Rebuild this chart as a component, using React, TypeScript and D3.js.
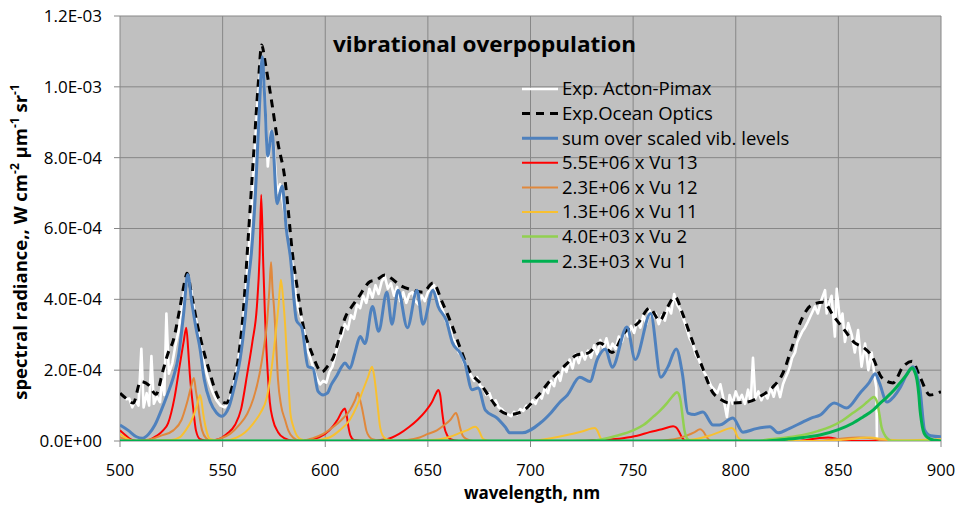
import React from "react";
import * as d3 from "d3";

// values of the y series are in units of 1E-04 (W cm-2 um-1 sr-1)
const xTicks = [500, 550, 600, 650, 700, 750, 800, 850, 900];
const yTicks = [0, 2, 4, 6, 8, 10, 12];
const yTickLabels = ["0.0E+00", "2.0E-04", "4.0E-04", "6.0E-04", "8.0E-04", "1.0E-03", "1.2E-03"];

const actonPimax: [number, number][] = [
  [500, 1.35], [501.5, 1.28], [503, 1.18], [504.5, 1.2], [506, 0.95], [507.5, 1.15], [509, 1.0], [510.4, 2.6],
  [511.5, 0.95], [513, 1.35], [514.2, 1.0], [515.3, 2.4], [516.5, 1.05], [518, 1.25], [519.5, 1.1], [520.5, 1.75],
  [521.6, 1.3], [522.6, 3.6], [523.8, 1.9], [525.5, 2.2], [527, 2.7], [528.5, 3.1], [530, 3.75], [531.5, 4.3],
  [533, 4.6], [534.5, 4.35], [536, 3.75], [537.5, 3.3], [539, 2.75], [540.5, 2.3], [542, 1.95], [543.5, 1.65],
  [545, 1.4], [547, 1.15], [549, 1.0], [551, 0.95], [553, 1.1], [555, 1.45], [557, 2.05], [559, 2.85],
  [561, 4.0], [563, 5.6], [565, 7.5], [567, 9.6], [569, 10.85], [570.5, 9.9], [572, 7.75], [573.5, 8.75],
  [575, 8.3], [576.5, 7.0], [578, 7.25], [579.5, 6.7], [581, 6.1], [582.5, 5.5], [584, 5.0], [585.5, 4.2],
  [587, 3.7], [588.5, 3.45], [590, 3.0], [591.5, 2.55], [593, 2.3], [594.5, 2.0], [596, 1.75], [597.5, 1.6],
  [599, 1.7], [600.5, 1.65], [602, 1.95], [603.5, 2.1], [605, 2.45], [606.5, 2.75], [608, 2.95], [609.5, 3.3],
  [611, 3.15], [612.5, 3.55], [614, 3.45], [615.5, 3.85], [617, 3.75], [618.5, 4.1], [620, 3.9], [621.5, 4.3],
  [623, 4.05], [624.5, 4.4], [626, 4.15], [627.5, 4.5], [629, 4.65], [630.5, 4.3], [632, 4.45], [633.5, 4.1],
  [635, 4.35], [636.5, 3.95], [638, 4.2], [639.5, 3.9], [641, 4.15], [642.5, 4.2], [644, 3.95], [645.5, 3.85],
  [647, 4.1], [648.5, 3.95], [650, 4.2], [651.5, 4.3], [653, 4.4], [654.5, 4.1], [656, 3.85], [657.5, 3.65],
  [659, 3.35], [660.5, 3.25], [662, 2.9], [663.5, 2.8], [665, 2.5], [666.5, 2.4], [668, 2.15], [669.5, 2.0],
  [671, 1.85], [672.5, 1.7], [674, 1.8], [675.5, 1.55], [677, 1.5], [678.5, 1.3], [680, 1.35], [681.5, 1.1],
  [683, 1.15], [684.5, 0.95], [686, 0.9], [687.5, 0.8], [689, 0.75], [690.5, 0.7], [692, 0.82], [693.5, 0.75],
  [695, 0.9], [696.5, 0.85], [698, 1.0], [699.5, 0.95], [701, 1.15], [702.5, 1.05], [704, 1.3], [705.5, 1.2],
  [707, 1.5], [708.5, 1.35], [710, 1.7], [711.5, 1.55], [713, 1.95], [714.5, 1.7], [716, 2.1], [717.5, 1.95],
  [719, 2.3], [720.5, 2.05], [722, 2.45], [723.5, 2.2], [725, 2.5], [726.5, 2.3], [728, 2.55], [729.5, 2.35],
  [731, 2.7], [732.5, 2.45], [734, 2.85], [735.5, 2.6], [737, 2.9], [738.5, 2.55], [740, 2.75], [741.5, 2.6],
  [743, 2.95], [744.5, 2.8], [746, 3.15], [747.5, 2.95], [749, 3.25], [750.5, 3.05], [752, 3.4], [753.5, 3.2],
  [755, 3.55], [756.5, 3.3], [758, 3.7], [759.5, 3.45], [761, 3.6], [762.5, 3.3], [764, 3.55], [765.5, 3.4],
  [767, 3.8], [768.5, 3.6], [770, 4.15], [771.5, 3.85], [773, 3.7], [774.5, 3.45], [776, 3.2], [777.5, 2.9],
  [779, 2.75], [780.5, 2.45], [782, 2.3], [783.5, 2.05], [785, 1.9], [786.5, 1.75], [788, 1.55], [789.5, 1.45],
  [791, 1.35], [792.5, 1.6], [794, 1.2], [795.7, 0.68], [797, 1.3], [798.5, 1.05], [800, 1.4], [801.5, 1.15],
  [803, 1.3], [804.5, 1.05], [806, 1.45], [807.3, 1.1], [808.4, 2.35], [809.5, 1.2], [811, 1.4], [812.5, 1.15],
  [814, 1.35], [815.5, 1.2], [817, 1.5], [818.5, 1.25], [820, 1.6], [821.6, 1.24], [823, 1.6], [824, 1.75],
  [825.5, 1.95], [826.4, 2.1], [827.5, 2.35], [828.9, 2.5], [830, 2.8], [831.3, 2.95], [832.5, 3.1], [833.7, 3.2],
  [835, 3.35], [836.2, 3.5], [837.4, 3.65], [838.6, 3.8], [840, 3.6], [841.5, 3.95], [843.5, 4.26], [844.3, 3.6],
  [845.5, 3.9], [846.7, 4.1], [848.3, 2.95], [849.2, 4.3], [850.9, 3.33], [852, 3.6], [853.2, 2.8], [854.8, 3.33],
  [856.5, 3.0], [858, 2.5], [859.6, 3.13], [861.3, 2.1], [863, 2.75], [864.6, 2.0], [866.2, 2.5], [867.8, 1.75],
  [868.5, 1.5], [868.8, 0.0],
];

const oceanOptics: [number, number][] = [
  [500, 1.35], [503, 1.2], [506.5, 1.07], [510, 1.68], [514, 1.58], [517.5, 1.32], [521, 2.0], [523.4, 2.48],
  [526, 2.85], [529, 3.7], [531.7, 4.55], [532.6, 4.74], [535, 4.1], [537.5, 3.33], [540.5, 2.6], [543.8, 1.92],
  [546, 1.5], [548.7, 1.16], [552, 1.07], [554.5, 1.5], [557, 2.1], [560, 3.6], [562.4, 5.67], [565, 8.0],
  [567.5, 10.2], [569, 11.18], [571, 10.6], [574, 9.54], [577, 8.4], [580.4, 7.37], [582, 6.5], [583.8, 5.4],
  [586, 4.46], [589, 3.33], [593.5, 2.48], [598.4, 1.95], [601, 2.1], [604, 2.37], [607, 2.95], [609.6, 3.47],
  [613, 3.8], [616, 4.04], [621.8, 4.5], [625, 4.55], [629, 4.69], [632, 4.6], [636.4, 4.4], [642.8, 4.26],
  [647.6, 4.2], [652.5, 4.46], [657, 3.92], [661.7, 3.27], [665.6, 2.65], [670.5, 1.95], [675.4, 1.64], [680, 1.24],
  [685, 0.87], [690, 0.75], [696.3, 0.85], [703, 1.24], [711, 1.8], [718, 2.2], [722.6, 2.43], [728, 2.48],
  [733.9, 2.77], [739.7, 2.5], [746, 3.08], [752.4, 3.33], [758, 3.75], [763, 3.4], [766, 3.7], [770.4, 4.07],
  [774.3, 3.56], [778.7, 2.85], [783.6, 2.1], [789, 1.35], [792, 1.2], [797, 1.07], [805.5, 1.1], [813, 1.3],
  [818, 1.52], [823, 1.92], [827.4, 2.65], [831.3, 3.33], [837, 3.84], [842.5, 3.92], [848, 3.5], [853, 3.13],
  [858, 2.77], [862, 2.65], [866.9, 2.34], [871, 1.8], [876.6, 1.64], [881.5, 2.1], [885.9, 2.25], [889.8, 1.8],
  [894.6, 1.3], [898.5, 1.35], [900, 1.4],
];

const sumVibLevels: [number, number][] = [
  [500, 0.45], [504, 0.3], [508, 0.12], [511, 0.08], [514, 0.2], [517, 0.45], [520, 0.85], [523, 1.3],
  [526, 1.8], [528.5, 2.4], [531, 3.6], [533, 4.7], [535, 3.9], [537, 3.2], [539, 2.6], [541, 1.75],
  [544, 1.1], [547, 0.8], [549.5, 0.7], [553, 0.95], [556, 1.6], [558.5, 2.3], [561, 3.5], [562.5, 4.5],
  [564, 5.3], [566, 7.0], [568, 9.5], [569.3, 10.85], [570.5, 9.7], [572, 8.05], [574, 8.75], [576.5, 6.7],
  [579, 7.2], [581, 6.0], [583, 5.2], [586, 3.4], [588.6, 3.2], [591.6, 2.1], [594, 2.05], [596.5, 1.4],
  [599, 1.3], [601, 1.35], [603, 1.6], [605.7, 1.85], [608, 2.1], [609.6, 2.2], [612, 2.05], [614.5, 2.5],
  [617, 2.95], [619.4, 2.75], [623, 3.8], [626, 3.1], [630, 4.2], [632.5, 3.3], [635.5, 4.26], [640, 3.2],
  [644.7, 4.26], [647.6, 3.3], [652.5, 4.26], [655, 3.8], [659, 3.4], [662, 2.77], [665.6, 2.5], [668, 2.2],
  [671.5, 1.45], [674.5, 1.5], [678, 0.87], [683.6, 0.65], [687.6, 0.4], [690, 0.23], [696, 0.23], [704.6, 0.5],
  [710, 0.8], [714.4, 1.1], [718, 1.3], [724, 1.8], [729, 1.68], [732.5, 2.3], [736.5, 2.6], [739.8, 2.08],
  [747, 3.22], [751, 2.3], [758.5, 3.6], [763.5, 1.8], [767, 2.1], [771, 2.6], [774, 1.9], [776.7, 0.79],
  [780, 0.75], [784, 0.82], [789, 0.45], [792, 0.45], [798.6, 0.65], [803.5, 0.25], [810, 0.35], [816.7, 0.4],
  [820.6, 0.23], [826, 0.35], [832.8, 0.54], [837, 0.65], [841, 0.73], [848, 1.07], [854, 0.93], [860.5, 1.35],
  [865, 1.65], [868, 1.9], [870, 1.64], [873.7, 1.1], [877, 1.25], [880, 1.5], [884, 1.95], [886.4, 2.1],
  [888, 1.9], [889.8, 1.44], [892, 0.31], [895, 0.15], [900, 0.12],
];

const vu13: [number, number][] = [
  [500, 0.3], [502, 0.2], [505, 0.05], [508, 0], [514, 0.03], [518, 0.15], [521, 0.3], [523.4, 0.5],
  [526.6, 1.24], [529, 2.1], [531, 2.8], [532.3, 3.2], [533.2, 2.6], [534, 1.9], [535.6, 0.96], [537, 0.3],
  [539, 0.05], [543, 0], [548, 0.05], [552, 0.2], [556, 0.45], [559, 0.9], [562, 1.9], [564.5, 2.8],
  [566.7, 3.8], [568, 5.2], [568.8, 6.95], [569.8, 5.0], [570.6, 3.6], [572, 1.9], [573, 1.1], [574.5, 0.6],
  [577, 0.25], [580, 0.08], [585, 0], [592, 0.03], [597, 0.1], [602, 0.3], [606, 0.6], [608.6, 0.87],
  [609.6, 0.92], [610.5, 0.7], [611.3, 0.4], [612.3, 0.15], [614, 0.03], [620, 0], [630, 0.05], [636, 0.2],
  [641, 0.4], [645, 0.6], [649, 0.85], [652, 1.1], [654, 1.35], [655, 1.44], [656, 1.3], [657, 0.8],
  [658, 0.4], [659.5, 0.15], [661, 0.05], [665, 0], [720, 0], [735, 0.03], [745, 0.08], [752, 0.15],
  [758, 0.25], [764, 0.33], [769.5, 0.42], [771, 0.38], [772.5, 0.25], [774, 0.08], [776, 0], [830, 0],
  [840, 0.08], [845, 0.1], [850, 0.05], [855, 0], [900, 0],
];

const vu12: [number, number][] = [
  [500, 0.1], [504, 0.03], [508, 0], [515, 0.05], [520, 0.15], [526, 0.3], [530, 0.6], [532.6, 1.07],
  [534.5, 1.5], [536, 1.78], [537, 1.4], [537.7, 1.16], [539, 0.6], [540, 0.3], [542, 0.08], [545, 0],
  [548, 0.05], [553.6, 0.2], [558, 0.45], [562, 0.77], [565, 1.2], [568, 1.9], [570, 2.6], [571.6, 3.33],
  [572.8, 4.3], [573.6, 5.05], [574.3, 4.3], [575, 3.8], [576, 2.8], [577, 1.72], [578.5, 1.0], [580.4, 0.6],
  [582, 0.3], [584.3, 0.1], [588, 0], [594, 0.08], [599, 0.2], [604, 0.4], [608, 0.6], [612, 0.87],
  [614.5, 1.15], [616, 1.36], [617, 1.15], [617.8, 0.96], [619, 0.6], [620, 0.3], [621.5, 0.12], [623, 0.05],
  [628, 0], [640, 0.03], [646, 0.1], [650, 0.2], [654.4, 0.3], [658, 0.45], [661, 0.6], [663.7, 0.79],
  [664.7, 0.65], [665.6, 0.4], [667, 0.15], [669, 0.05], [672, 0], [760, 0], [770, 0.05], [776, 0.15],
  [780, 0.25], [782.6, 0.33], [784, 0.28], [786, 0.1], [788, 0], [840, 0], [850, 0.06], [860, 0.1],
  [866, 0.08], [870, 0.03], [875, 0], [900, 0],
];

const vu11: [number, number][] = [
  [500, 0.2], [503, 0.08], [507, 0], [525, 0.03], [529, 0.1], [532, 0.3], [535, 0.6], [537.5, 1.0],
  [539, 1.3], [539.8, 1.1], [540.5, 0.79], [541.5, 0.45], [542.4, 0.23], [544, 0.05], [550, 0], [557, 0.1],
  [561, 0.25], [565, 0.5], [568.5, 0.8], [571.6, 1.24], [573.5, 1.9], [575.5, 2.85], [577.2, 3.8], [578.4, 4.55],
  [579.5, 4.0], [580.4, 3.33], [581.2, 2.5], [582, 1.72], [583, 0.79], [584.2, 0.45], [585.5, 0.23], [588, 0.05],
  [592, 0], [602, 0.1], [607, 0.3], [612, 0.6], [615.5, 1.0], [618.4, 1.44], [620.8, 1.8], [622.8, 2.1],
  [623.8, 1.85], [624.7, 1.44], [625.7, 0.9], [626.7, 0.4], [628, 0.15], [630, 0.05], [635, 0], [650, 0.02],
  [656, 0.05], [661, 0.12], [665.6, 0.23], [669, 0.3], [673, 0.4], [674.3, 0.35], [675.4, 0.23], [676.2, 0.12],
  [677, 0.05], [680, 0], [700, 0], [704.6, 0.03], [710, 0.08], [717.8, 0.17], [725, 0.27], [731.4, 0.37],
  [732.5, 0.3], [734, 0.1], [735, 0.03], [737, 0], [770, 0], [780, 0.05], [787, 0.15], [792, 0.25],
  [798, 0.37], [799.5, 0.3], [801, 0.1], [803, 0.02], [806, 0], [840, 0], [855, 0.05], [865, 0.1],
  [872, 0.05], [880, 0.02], [900, 0.05],
];

const vu2: [number, number][] = [
  [500, 0], [730, 0], [735, 0.05], [742, 0.15], [750, 0.3], [755, 0.45], [759.7, 0.68], [763, 0.85],
  [766.5, 1.07], [769, 1.25], [771.4, 1.38], [772.3, 1.32], [773.2, 1.1], [774.3, 0.6], [775, 0.3], [776, 0.1],
  [777, 0.03], [778.5, 0], [810, 0], [816.7, 0.05], [825, 0.1], [832.8, 0.17], [840, 0.28], [846, 0.4],
  [852, 0.58], [857, 0.79], [861, 0.95], [864, 1.1], [866, 1.2], [867.4, 1.24], [868.3, 1.18], [869, 1.07],
  [870, 0.75], [871, 0.4], [872.5, 0.18], [873.7, 0.08], [876, 0], [900, 0],
];

const vu1: [number, number][] = [
  [500, 0], [815, 0], [825, 0.05], [833, 0.1], [841, 0.17], [850, 0.32], [857, 0.5], [862, 0.68],
  [866.9, 0.87], [870, 1.05], [873.7, 1.24], [877, 1.43], [880, 1.64], [883, 1.85], [885.9, 2.06], [887.2, 1.95],
  [888.3, 1.72], [889.2, 1.3], [889.8, 0.87], [890.5, 0.55], [891.3, 0.3], [892.5, 0.15], [894.6, 0.06], [897, 0.02],
  [900, 0],
];

const legendLabels = [
  "Exp. Acton-Pimax",
  "Exp.Ocean Optics",
  "sum over scaled vib. levels",
  "5.5E+06 x Vu 13",
  "2.3E+06 x Vu 12",
  "1.3E+06 x Vu 11",
  "4.0E+03 x Vu 2",
  "2.3E+03 x Vu 1",
];

const W = 957;
const H = 505;
const M = { left: 120, right: 941, top: 16, bottom: 441 };
const FONT = "'Open Sans', 'DejaVu Sans', sans-serif";

type Series = {
  data: [number, number][];
  color: string;
  width: number;
  dash?: string;
  smooth: boolean;
};

const series: Series[] = [
  { data: actonPimax, color: "#FFFFFF", width: 2.6, smooth: false },
  { data: oceanOptics, color: "#000000", width: 3, dash: "8,6", smooth: true },
  { data: sumVibLevels, color: "#4F81BD", width: 3, smooth: true },
  { data: vu13, color: "#FF0000", width: 2, smooth: true },
  { data: vu12, color: "#E0883C", width: 2, smooth: true },
  { data: vu11, color: "#F8C030", width: 2, smooth: true },
  { data: vu2, color: "#92D050", width: 2.5, smooth: true },
  { data: vu1, color: "#00B050", width: 3, smooth: true },
];

export default function App() {
  const x = d3.scaleLinear().domain([500, 900]).range([M.left, M.right]);
  const y = d3.scaleLinear().domain([0, 12]).range([M.bottom, M.top]);

  const lineFor = (s: Series) =>
    d3
      .line<[number, number]>()
      .x((d) => x(d[0]))
      .y((d) => y(d[1]))
      .curve(s.smooth ? d3.curveMonotoneX : d3.curveLinear)(s.data) || "";

  const legX1 = 522;
  const legX2 = 558;
  const legY0 = 89;
  const legDy = 24.6;

  return (
    <svg
      width={W}
      height={H}
      style={{ position: "absolute", left: 0, top: 0, background: "#FFFFFF" }}
      fontFamily={FONT}
    >
      <defs>
        <clipPath id="plotClip">
          <rect x={M.left} y={M.top - 2} width={M.right - M.left} height={M.bottom - M.top + 2} />
        </clipPath>
      </defs>
      <rect x={M.left} y={M.top} width={M.right - M.left} height={M.bottom - M.top} fill="#C0C0C0" />
      {/* grid */}
      {xTicks.slice(1).map((t) => (
        <line key={"gx" + t} x1={x(t)} x2={x(t)} y1={M.top} y2={M.bottom} stroke="#878787" strokeWidth={1} />
      ))}
      {yTicks.slice(1).map((t) => (
        <line key={"gy" + t} x1={M.left} x2={M.right} y1={y(t)} y2={y(t)} stroke="#878787" strokeWidth={1} />
      ))}
      {/* axes */}
      <line x1={M.left} x2={M.left} y1={M.top} y2={M.bottom} stroke="#878787" strokeWidth={1} />
      <line x1={M.left} x2={M.right} y1={M.bottom} y2={M.bottom} stroke="#878787" strokeWidth={1} />
      {yTicks.map((t) => (
        <line key={"ty" + t} x1={M.left - 6} x2={M.left} y1={y(t)} y2={y(t)} stroke="#878787" />
      ))}
      {xTicks.map((t) => (
        <line key={"tx" + t} x1={x(t)} x2={x(t)} y1={M.bottom} y2={M.bottom + 6} stroke="#878787" />
      ))}
      {yTicks.map((t, i) => (
        <text key={"ly" + t} x={102} y={y(t)} dy="0.35em" textAnchor="end" fontSize={17} fill="#000">
          {yTickLabels[i]}
        </text>
      ))}
      {xTicks.map((t) => (
        <text key={"lx" + t} x={x(t)} y={476} textAnchor="middle" fontSize={16.5} fill="#000">
          {t}
        </text>
      ))}
      {/* series */}
      <g clipPath="url(#plotClip)">
        {series.map((s, i) => (
          <path
            key={"s" + i}
            d={lineFor(s)}
            fill="none"
            stroke={s.color}
            strokeWidth={s.width}
            strokeDasharray={s.dash}
            strokeLinejoin="round"
          />
        ))}
      </g>
      {/* title */}
      <text
        x={333}
        y={52}
        fontSize={22}
        fontWeight="bold"
        fill="#000"
        textLength={303}
        lengthAdjust="spacingAndGlyphs"
      >
        vibrational overpopulation
      </text>
      {/* legend */}
      {legendLabels.map((lab, i) => {
        const s = series[i];
        const yy = legY0 + i * legDy;
        return (
          <g key={"leg" + i}>
            <line
              x1={legX1}
              x2={legX2}
              y1={yy}
              y2={yy}
              stroke={s.color}
              strokeWidth={s.width}
              strokeDasharray={s.dash}
            />
            <text x={562} y={yy} dy="0.35em" fontSize={18.5} fill="#000">
              {lab}
            </text>
          </g>
        );
      })}
      {/* axis titles */}
      <text x={532} y={499} textAnchor="middle" fontSize={17} fontWeight="bold" fill="#000">
        wavelength, nm
      </text>
      <text
        transform="translate(27,242) rotate(-90)"
        textAnchor="middle"
        fontSize={18.5}
        fontWeight="bold"
        fill="#000"
      >
        spectral radiance,, W cm<tspan dy={-8} fontSize={12}>-2</tspan>
        <tspan dy={8}> µm</tspan>
        <tspan dy={-8} fontSize={12}>-1</tspan>
        <tspan dy={8}> sr</tspan>
        <tspan dy={-8} fontSize={12}>-1</tspan>
      </text>
    </svg>
  );
}
